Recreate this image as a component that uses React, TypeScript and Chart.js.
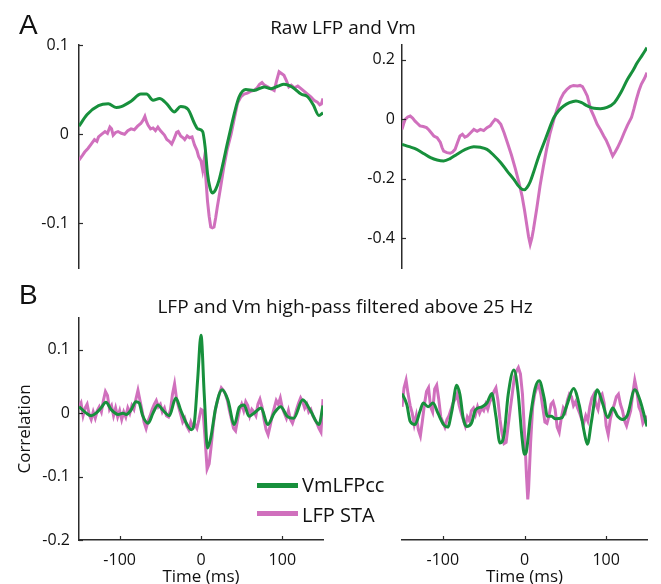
import React, { useEffect, useRef } from "react";
import { Chart, registerables } from "chart.js";
Chart.register(...registerables);

const GREEN = "#17903c";
const PINK = "#d070bd";
const AXIS = "#2b2b2b";
const TEXT = "#111111";
const FONT = "'Open Sans', 'DejaVu Sans', sans-serif";

// ---------- tick labels ----------
const X_TICKS = [-100, 0, 100];
const A_LEFT_Y_TICKS = [-0.1, 0, 0.1];
const A_RIGHT_Y_TICKS = [-0.4, -0.2, 0, 0.2];
const B_Y_TICKS = [-0.2, -0.1, 0, 0.1];

// ---------- A left: raw LFP and Vm ----------
const aLeftGreenT = [-150, -140, -126, -114, -104, -98, -86, -74, -67, -59, -51, -42, -33, -25, -16, -8, -4, 2, 5, 8, 11, 14, 18, 22, 27, 32, 37, 42, 47, 55, 65, 78, 86, 95, 102, 110, 115, 123, 131, 138, 145, 150];
const aLeftGreenV = [0.009, 0.022, 0.032, 0.034, 0.030, 0.031, 0.037, 0.045, 0.045, 0.038, 0.040, 0.034, 0.025, 0.031, 0.028, 0.012, 0.006, 0.003, -0.014, -0.044, -0.060, -0.066, -0.062, -0.052, -0.033, -0.012, 0.008, 0.027, 0.042, 0.050, 0.049, 0.053, 0.051, 0.054, 0.056, 0.054, 0.051, 0.045, 0.042, 0.033, 0.021, 0.024];
const aLeftPinkT = [-150, -146, -143, -139, -135, -131, -128, -126, -122, -118, -115, -112, -110, -108, -105, -102, -98, -94, -90, -86, -82, -78, -74, -71, -69, -67, -65, -62, -59, -56, -53, -50, -47, -45, -42, -39, -36, -33, -30, -28, -25, -22, -20, -17, -14, -11, -8, -5, -3, 0, 2, 4, 6, 8, 10, 12, 14, 16, 18, 20, 24, 28, 32, 37, 41, 45, 49, 53, 57, 61, 65, 69, 72, 75, 78, 82, 86, 90, 93, 96, 99, 102, 105, 108, 111, 115, 119, 123, 127, 131, 135, 139, 143, 146, 148, 150];
const aLeftPinkV = [-0.029, -0.024, -0.020, -0.016, -0.011, -0.006, -0.008, -0.003, 0.000, 0.003, 0.001, 0.008, 0.006, -0.001, 0.002, 0.003, 0.001, 0.000, 0.004, 0.006, 0.005, 0.009, 0.012, 0.016, 0.020, 0.014, 0.010, 0.006, 0.007, 0.004, 0.008, 0.004, 0.001, -0.001, -0.006, -0.008, -0.011, -0.005, 0.002, 0.003, -0.002, -0.004, -0.006, -0.002, -0.004, -0.003, -0.012, -0.018, -0.025, -0.030, -0.040, -0.028, -0.050, -0.075, -0.092, -0.104, -0.105, -0.104, -0.094, -0.082, -0.060, -0.037, -0.018, 0.000, 0.018, 0.035, 0.042, 0.045, 0.046, 0.048, 0.049, 0.052, 0.056, 0.058, 0.055, 0.053, 0.051, 0.049, 0.060, 0.070, 0.068, 0.066, 0.060, 0.053, 0.055, 0.052, 0.054, 0.051, 0.048, 0.045, 0.042, 0.038, 0.036, 0.033, 0.034, 0.040];

// ---------- A right ----------
const aRightGreenT = [-150, -141, -132, -123, -115, -107, -99, -91, -83, -73, -62, -54, -46, -38, -29, -21, -13, -8, -3, 0, 3, 7, 11, 17, 24, 30, 36, 42, 48, 55, 63, 70, 77, 85, 93, 101, 110, 118, 126, 133, 138, 144, 150];
const aRightGreenV = [-0.084, -0.092, -0.101, -0.116, -0.129, -0.137, -0.140, -0.132, -0.118, -0.102, -0.092, -0.094, -0.101, -0.120, -0.146, -0.175, -0.202, -0.222, -0.235, -0.237, -0.230, -0.210, -0.179, -0.128, -0.078, -0.034, 0.006, 0.030, 0.045, 0.056, 0.062, 0.056, 0.045, 0.037, 0.036, 0.040, 0.056, 0.090, 0.134, 0.165, 0.190, 0.215, 0.241];
const aRightPinkT = [-150, -148, -146, -143, -140, -137, -134, -131, -128, -124, -120, -117, -114, -111, -107, -103, -101, -99, -95, -91, -88, -85, -82, -79, -76, -73, -70, -66, -62, -58, -54, -50, -46, -42, -39, -36, -33, -29, -25, -21, -16, -11, -7, -3, 0, 3, 5, 7, 9, 11, 15, 19, 23, 27, 31, 36, 40, 44, 48, 52, 56, 60, 65, 68, 71, 74, 77, 79, 81, 85, 89, 93, 97, 100, 104, 106, 108, 111, 114, 118, 122, 126, 131, 134, 137, 140, 143, 147, 150];
const aRightPinkV = [-0.034, -0.015, 0.000, 0.008, 0.011, 0.004, -0.006, -0.014, -0.022, -0.024, -0.028, -0.036, -0.046, -0.056, -0.062, -0.078, -0.095, -0.107, -0.112, -0.114, -0.110, -0.101, -0.078, -0.056, -0.050, -0.060, -0.056, -0.045, -0.034, -0.040, -0.034, -0.038, -0.028, -0.022, -0.010, 0.000, -0.004, -0.017, -0.045, -0.078, -0.120, -0.168, -0.210, -0.258, -0.305, -0.359, -0.395, -0.420, -0.400, -0.370, -0.300, -0.224, -0.160, -0.101, -0.050, 0.000, 0.035, 0.067, 0.088, 0.101, 0.110, 0.114, 0.112, 0.114, 0.110, 0.095, 0.078, 0.056, 0.034, 0.010, -0.017, -0.035, -0.056, -0.070, -0.095, -0.110, -0.123, -0.110, -0.095, -0.072, -0.045, -0.020, 0.006, 0.035, 0.067, 0.095, 0.118, 0.138, 0.157];

// ---------- B left: high-pass filtered ----------
const bLeftGreenT = [-150, -148, -141, -135, -129, -123, -117, -110, -102, -96, -92, -86, -80, -76, -72, -65, -59, -53, -47, -39, -31, -25, -18, -12, -8, -4, 0, 4, 8, 12, 18, 26, 33, 41, 47, 53, 59, 65, 74, 82, 90, 98, 106, 114, 125, 135, 145, 150];
const bLeftGreenV = [0.010, 0.008, 0.000, -0.004, 0.000, 0.008, 0.017, 0.005, -0.002, 0.000, -0.002, 0.005, 0.018, 0.016, -0.003, -0.016, 0.000, 0.013, 0.005, -0.004, 0.024, 0.005, -0.016, -0.026, -0.013, 0.055, 0.123, 0.029, -0.055, -0.039, 0.008, 0.037, 0.021, -0.018, 0.009, 0.013, -0.005, 0.000, 0.008, -0.018, 0.000, 0.010, -0.005, -0.008, 0.021, 0.003, -0.018, 0.012];
const bLeftPinkT = [-150, -147.5, -145, -142.5, -140, -137.5, -135, -132.5, -130, -127.5, -125, -122.5, -120, -117.5, -115, -112.5, -110, -107.5, -105, -102.5, -100, -97.5, -95, -92.5, -90, -87.5, -85, -82.5, -80, -77.5, -75, -72.5, -70, -67.5, -65, -62.5, -60, -57.5, -55, -52.5, -50, -47.5, -45, -42.5, -40, -37.5, -35, -32.5, -30, -27.5, -25, -22.5, -20, -17.5, -15, -12.5, -10, -7.5, -5, -2.5, 0, 2.5, 5, 7.5, 10, 12.5, 15, 17.5, 20, 22.5, 25, 27.5, 30, 32.5, 35, 37.5, 40, 42.5, 45, 47.5, 50, 52.5, 55, 57.5, 60, 62.5, 65, 67.5, 70, 72.5, 75, 77.5, 80, 82.5, 85, 87.5, 90, 92.5, 95, 97.5, 100, 102.5, 105, 107.5, 110, 112.5, 115, 117.5, 120, 122.5, 125, 127.5, 130, 132.5, 135, 137.5, 140, 142.5, 145, 147.5, 150];
const bLeftPinkV = [0.010, 0.016, -0.004, 0.008, 0.014, -0.002, -0.010, 0.002, -0.008, 0.004, 0.010, 0.002, 0.020, 0.034, 0.028, 0.006, 0.012, -0.004, 0.008, -0.006, 0.004, -0.010, 0.002, -0.006, 0.008, 0.000, 0.012, 0.006, 0.022, 0.036, 0.020, 0.004, -0.014, -0.024, -0.012, -0.004, 0.006, 0.014, 0.020, 0.010, 0.014, 0.002, 0.008, -0.004, -0.006, 0.006, 0.030, 0.046, 0.022, 0.010, -0.002, -0.014, -0.008, -0.020, -0.026, -0.014, -0.022, -0.018, -0.024, -0.010, 0.006, 0.004, -0.040, -0.088, -0.080, -0.052, -0.020, 0.004, 0.018, 0.030, 0.040, 0.036, 0.030, 0.020, 0.004, -0.010, -0.024, -0.028, -0.010, 0.006, 0.014, 0.004, 0.018, 0.012, -0.004, 0.006, 0.002, -0.004, 0.014, 0.022, 0.010, -0.010, -0.026, -0.034, -0.020, -0.004, 0.008, 0.020, 0.014, 0.024, 0.008, 0.000, -0.008, 0.004, -0.010, -0.016, -0.006, 0.006, 0.016, 0.024, 0.018, 0.008, 0.014, 0.002, 0.006, -0.004, -0.010, -0.016, -0.024, -0.030, 0.022];

// ---------- B right ----------
const bRightGreenT = [-150, -144, -140, -134, -128, -124, -118, -112, -106, -99, -94, -89, -83, -79, -75, -71, -65, -60, -52, -46, -40, -35, -30, -25, -20, -13, -8, -3, 0, 2, 7, 13, 18, 24, 28, 33, 38, 46, 52, 60, 67, 73, 77, 82, 89, 95, 102, 108, 114, 120, 126, 135, 142, 150];
const bRightGreenV = [0.031, 0.013, -0.013, -0.018, 0.003, 0.016, 0.010, 0.016, 0.000, -0.018, -0.022, 0.003, 0.044, 0.029, -0.008, -0.021, -0.016, 0.005, 0.010, 0.016, 0.031, -0.005, -0.047, -0.034, 0.029, 0.068, 0.034, -0.039, -0.065, -0.062, -0.008, 0.039, 0.051, 0.024, -0.005, -0.005, -0.009, -0.007, 0.013, 0.039, 0.013, -0.029, -0.049, -0.013, 0.037, 0.018, -0.007, 0.008, -0.005, -0.010, -0.003, 0.037, 0.018, -0.021];
const bRightPinkT = [-150, -147.5, -145, -142.5, -140, -137.5, -135, -132.5, -130, -127.5, -125, -122.5, -120, -117.5, -115, -112.5, -110, -107.5, -105, -102.5, -100, -97.5, -95, -92.5, -90, -87.5, -85, -82.5, -80, -77.5, -75, -72.5, -70, -67.5, -65, -62.5, -60, -57.5, -55, -52.5, -50, -47.5, -45, -42.5, -40, -37.5, -35, -32.5, -30, -27.5, -25, -22.5, -20, -17.5, -15, -12.5, -10, -7.5, -5, -2.5, 0, 2.5, 4, 5, 7.5, 10, 12.5, 15, 17.5, 20, 22.5, 25, 27.5, 30, 32.5, 35, 37.5, 40, 42.5, 45, 47.5, 50, 52.5, 55, 57.5, 60, 62.5, 65, 67.5, 70, 72.5, 75, 77.5, 80, 82.5, 85, 87.5, 90, 92.5, 95, 97.5, 100, 102.5, 105, 107.5, 110, 112.5, 115, 117.5, 120, 122.5, 125, 127.5, 130, 132.5, 135, 137.5, 140, 142.5, 145, 147.5, 150];
const bRightPinkV = [0.010, 0.040, 0.052, 0.030, 0.012, 0.000, -0.018, -0.004, -0.026, -0.036, -0.012, 0.014, 0.034, 0.040, 0.010, 0.002, 0.038, 0.044, 0.022, -0.006, -0.014, -0.022, -0.010, -0.004, 0.006, 0.016, 0.022, 0.030, 0.012, 0.000, -0.010, -0.020, -0.006, -0.012, 0.004, 0.008, -0.002, 0.010, 0.000, 0.008, 0.004, 0.014, 0.006, 0.018, 0.024, 0.034, 0.040, 0.020, -0.010, -0.032, -0.048, -0.046, -0.020, 0.006, 0.030, 0.056, 0.066, 0.072, 0.062, 0.030, -0.030, -0.100, -0.136, -0.120, -0.046, 0.010, 0.030, 0.040, 0.044, 0.030, 0.008, -0.014, -0.016, -0.004, 0.014, 0.018, 0.006, -0.022, -0.030, -0.008, 0.008, 0.002, 0.020, 0.030, 0.026, 0.012, 0.018, 0.008, 0.000, -0.010, -0.016, -0.004, -0.012, 0.010, 0.024, 0.030, 0.014, 0.006, 0.026, 0.030, 0.016, -0.020, -0.034, -0.010, 0.004, 0.014, 0.026, 0.030, 0.014, 0.004, -0.012, -0.020, -0.008, 0.004, 0.030, 0.052, 0.036, 0.010, 0.002, -0.016, -0.010, -0.004];

const SERIES_NAMES = ["VmLFPcc", "LFP STA"];

// ---------- plugin: inward tick marks (MATLAB style) ----------
const inwardTicks = {
  id: "inwardTicks",
  afterDraw(chart: any, _args: any, opts: any) {
    const { ctx, chartArea } = chart;
    ctx.save();
    ctx.strokeStyle = AXIS;
    ctx.lineWidth = 1.2;
    for (const id of (opts && opts.axes) || []) {
      const s = chart.scales[id];
      if (!s || !s.options.display) continue;
      for (const t of s.ticks) {
        const p = Math.round(s.getPixelForValue(t.value)) + 0.5;
        ctx.beginPath();
        if (s.isHorizontal()) {
          ctx.moveTo(p, chartArea.bottom);
          ctx.lineTo(p, chartArea.bottom - 4);
        } else {
          ctx.moveTo(chartArea.left, p);
          ctx.lineTo(chartArea.left + 4, p);
        }
        ctx.stroke();
      }
    }
    ctx.restore();
  },
};

type PanelSpec = {
  left: number;
  top: number;
  width: number;
  height: number;
  gT: number[];
  gV: number[];
  pT: number[];
  pV: number[];
  yMin: number;
  yMax: number;
  yTicks: number[];
  showY: boolean;
  showX: boolean;
  yWidth: number;
  yPad: number;
  yTitle?: string;
  pad: { left: number; top: number; right: number; bottom: number };
};

const zip = (t: number[], v: number[]) => t.map((x, i) => ({ x, y: v[i] }));

function makeConfig(p: PanelSpec): any {
  const tickFont = { family: FONT, size: 16 };
  const titleFont = { family: FONT, size: 17 };
  return {
    type: "line",
    data: {
      datasets: [
        {
          label: SERIES_NAMES[0],
          data: zip(p.gT, p.gV),
          borderColor: GREEN,
          borderWidth: 3,
          pointRadius: 0,
          pointHoverRadius: 0,
          cubicInterpolationMode: "monotone",
          fill: false,
        },
        {
          label: SERIES_NAMES[1],
          data: zip(p.pT, p.pV),
          borderColor: PINK,
          borderWidth: 3,
          pointRadius: 0,
          pointHoverRadius: 0,
          tension: 0,
          fill: false,
        },
      ],
    },
    options: {
      animation: false,
      responsive: false,
      devicePixelRatio: 1,
      layout: { padding: p.pad, autoPadding: false },
      plugins: {
        legend: { display: false },
        tooltip: { enabled: false },
        inwardTicks: { axes: [p.showX ? "x" : null, p.showY ? "y" : null].filter(Boolean) },
      },
      scales: {
        x: {
          type: "linear",
          min: -150,
          max: 150,
          display: p.showX,
          afterBuildTicks: (s: any) => {
            s.ticks = X_TICKS.map((v) => ({ value: v }));
          },
          afterFit: (s: any) => {
            s.height = p.showX ? 50 : 0;
            s.paddingLeft = 0;
            s.paddingRight = 0;
            s.paddingTop = 0;
            s.paddingBottom = 0;
          },
          grid: { display: false, drawTicks: false },
          border: { display: true, color: AXIS, width: 1.5 },
          ticks: { font: tickFont, color: TEXT, padding: 11, maxRotation: 0, callback: (v: any) => String(v) },
          title: { display: true, text: "Time (ms)", font: titleFont, color: TEXT, padding: { top: 0, bottom: 3 } },
        },
        y: {
          type: "linear",
          position: "left",
          min: p.yMin,
          max: p.yMax,
          display: p.showY,
          afterBuildTicks: (s: any) => {
            s.ticks = p.yTicks.map((v) => ({ value: v }));
          },
          afterFit: (s: any) => {
            s.width = p.showY ? p.yWidth : 0;
            s.paddingLeft = 0;
            s.paddingRight = 0;
            s.paddingTop = 0;
            s.paddingBottom = 0;
          },
          grid: { display: false, drawTicks: false },
          border: { display: true, color: AXIS, width: 1.5 },
          ticks: { font: tickFont, color: TEXT, padding: p.yPad, callback: (v: any) => String(v) },
          title: p.yTitle
            ? { display: true, text: p.yTitle, font: titleFont, color: TEXT, padding: { top: 15, bottom: 0 } }
            : { display: false },
        },
      },
    },
    plugins: [inwardTicks],
  };
}

function Panel({ spec }: { spec: PanelSpec }) {
  const ref = useRef<HTMLCanvasElement | null>(null);
  useEffect(() => {
    if (!ref.current) return;
    const chart = new Chart(ref.current, makeConfig(spec));
    return () => chart.destroy();
  }, [spec]);
  return (
    <canvas
      ref={ref}
      width={spec.width}
      height={spec.height}
      style={{ position: "absolute", left: spec.left, top: spec.top, width: spec.width, height: spec.height }}
    />
  );
}

const PANELS: PanelSpec[] = [
  {
    left: 0, top: 30, width: 335, height: 250,
    gT: aLeftGreenT, gV: aLeftGreenV, pT: aLeftPinkT, pV: aLeftPinkV,
    yMin: -0.15, yMax: 0.1, yTicks: A_LEFT_Y_TICKS,
    showY: true, showX: false, yWidth: 79, yPad: 10,
    pad: { left: 0, top: 15, right: 12, bottom: 12 },
  },
  {
    left: 335, top: 30, width: 326, height: 250,
    gT: aRightGreenT, gV: aRightGreenV, pT: aRightPinkT, pV: aRightPinkV,
    yMin: -0.5, yMax: 0.25, yTicks: A_RIGHT_Y_TICKS,
    showY: true, showX: false, yWidth: 67, yPad: 7,
    pad: { left: 0, top: 15, right: 14, bottom: 12 },
  },
  {
    left: 0, top: 290, width: 335, height: 300,
    gT: bLeftGreenT, gV: bLeftGreenV, pT: bLeftPinkT, pV: bLeftPinkV,
    yMin: -0.2, yMax: 0.15, yTicks: B_Y_TICKS,
    showY: true, showX: true, yWidth: 79, yPad: 9, yTitle: "Correlation",
    pad: { left: 0, top: 28, right: 12, bottom: 0 },
  },
  {
    left: 335, top: 290, width: 326, height: 300,
    gT: bRightGreenT, gV: bRightGreenV, pT: bRightPinkT, pV: bRightPinkV,
    yMin: -0.2, yMax: 0.15, yTicks: B_Y_TICKS,
    showY: false, showX: true, yWidth: 0, yPad: 0,
    pad: { left: 67, top: 28, right: 14, bottom: 0 },
  },
];

const txt = (extra: React.CSSProperties): React.CSSProperties => ({
  position: "absolute",
  color: TEXT,
  fontFamily: FONT,
  whiteSpace: "nowrap",
  lineHeight: 1,
  ...extra,
});

export default function App() {
  return (
    <div
      style={{
        position: "fixed",
        left: 0,
        top: 0,
        width: 661,
        height: 584,
        background: "#ffffff",
        overflow: "hidden",
      }}
    >
      {PANELS.map((p, i) => (
        <Panel key={i} spec={p} />
      ))}
      <div style={txt({ left: 19, top: 11, fontSize: 28, fontFamily: "'Liberation Sans', Arial, sans-serif" })}>A</div>
      <div style={txt({ left: 19, top: 281, fontSize: 28, fontFamily: "'Liberation Sans', Arial, sans-serif" })}>B</div>
      <div style={txt({ left: 343, top: 18, fontSize: 19, transform: "translateX(-50%)" })}>Raw LFP and Vm</div>
      <div style={txt({ left: 345, top: 297, fontSize: 19, transform: "translateX(-50%)" })}>
        LFP and Vm high-pass filtered above 25 Hz
      </div>
      {/* legend */}
      <div style={{ position: "absolute", left: 257, top: 482.5, width: 41, height: 5, background: GREEN }} />
      <div style={txt({ left: 302, top: 474.5, fontSize: 20 })}>{SERIES_NAMES[0]}</div>
      <div style={{ position: "absolute", left: 257, top: 511, width: 41, height: 5, background: PINK }} />
      <div style={txt({ left: 302, top: 504.5, fontSize: 20 })}>{SERIES_NAMES[1]}</div>
    </div>
  );
}
